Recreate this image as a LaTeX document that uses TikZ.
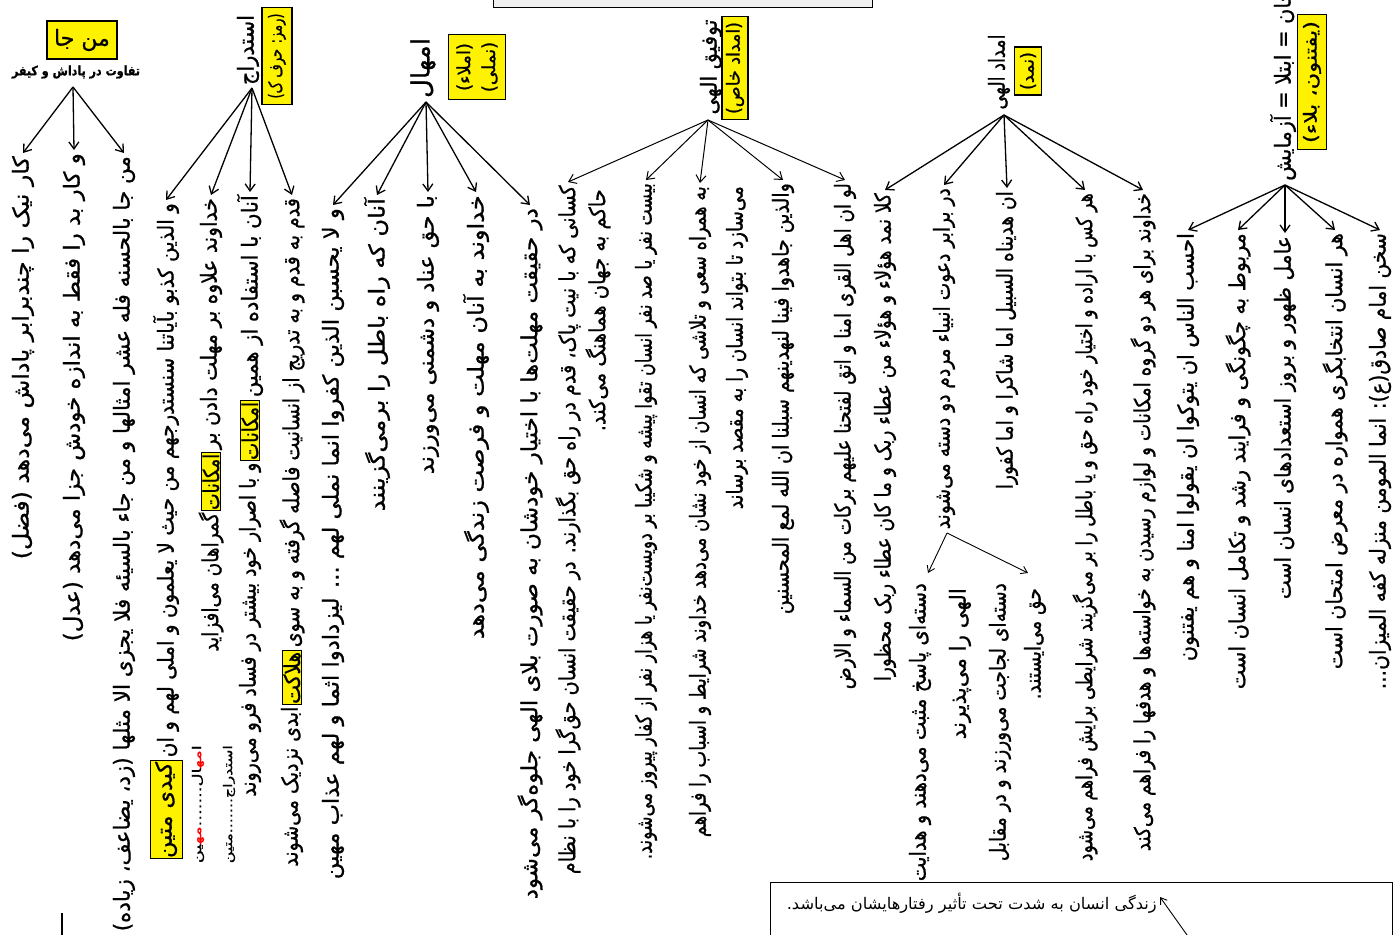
\documentclass[tikz,border=0pt]{standalone}
\usepackage{fontspec}
\usepackage{graphicx}
\usetikzlibrary{arrows.meta}
\newfontfamily\arabicfont[Script=Arabic, FakeBold=0.9]{DejaVu Sans}
\newfontfamily\arabicthin[Script=Arabic]{DejaVu Sans}
\TeXXeTstate=1
\newcommand{\fl}[2]{\resizebox{#1pt}{\height}{\arabicfont #2}}
\newcommand{\rd}[1]{\mbox{\color{red}#1}}
\newcommand\Col[5]{\node[col] (#1) at (#2,#3) {\fl{\fpeval{#4-#3-4}}{#5}};}
\newcommand\Part[4]{\node[col, inner xsep=1pt] (#1) at (#2.west) {\fl{#3}{#4}};}
\newcommand\Kbox[4]{\node[ibox] (#1) at (#2.west) {\fl{#3}{#4}};}
\begin{document}
\begin{tikzpicture}[x=1pt,y=-1pt,
  col/.style={rotate=90, anchor=east, inner xsep=3pt, inner ysep=0pt, font=\fontsize{22}{25}\selectfont},
  ibox/.style={rotate=90, anchor=east, draw, fill=yellow, line width=1pt, inner xsep=1pt, inner ysep=1pt, font=\fontsize{22}{25}\selectfont},
  lab/.style={rotate=90, inner sep=1pt, font=\fontsize{22}{25}\selectfont},
  ybox/.style={rotate=90, draw, fill=yellow, line width=1.3pt, inner sep=1pt, font=\fontsize{18}{21}\selectfont, align=center},
  arr/.style={line width=1.3pt, -{Straight Barb[length=7pt,width=10pt]}},
  thinarr/.style={line width=0.9pt, -{Straight Barb[length=6pt,width=8pt]}},
]
\useasboundingbox[fill=white] (0,0) rectangle (1394,934);

% top box (cut off)
\node[draw, fill=black!6, line width=1pt, minimum width=379pt, minimum height=40pt, anchor=south west, inner sep=0pt] (tb) at (493,8) {};

% ---------- group 1
\node[draw, fill=yellow, line width=1.3pt, minimum width=70pt, minimum height=38pt, font=\fontsize{22}{26}\selectfont] (t1) at (82,40) {\arabicfont\beginR من جا\endR};
\node[inner sep=0pt, font=\fontsize{13}{15}\selectfont] (t1s) at (76,72) {\fl{128}{\bfseries\beginR تفاوت در پاداش و کیفر\endR}};
\coordinate (o1) at (73,87);
\Col{c11}{23}{153}{560}{\beginR کار نیک را چندبرابر پاداش می‌دهد (فضل)\endR}
\Col{c12}{74}{150}{642}{\beginR و کار بد را فقط به اندازه خودش جزا می‌دهد (عدل)\endR}
\Col{c13}{124}{153}{932}{\beginR من جا بالحسنه فله عشر امثالها و من جاء بالسیئه فلا یجزی الا مثلها (زد، یضاعف، زیاده)\endR}
\foreach \n in {c11,c12,c13} \draw[arr] (o1) -- (\n.east);
\coordinate (v1) at (62,913); \coordinate (v2) at (62,940);
\draw[line width=1.3pt] (v1) -- (v2);

% ---------- group 2
\node[lab] (t2) at (248,50) {\fl{70}{\beginR استدراج\endR}};
\node[ybox, minimum width=97pt, minimum height=30pt] (y2) at (277,56) {\fl{85}{\beginR (رمز: حرف ک)\endR}};
\coordinate (o2) at (252,88);
\Col{c21}{166}{200}{758}{\beginR و الذین کذبو بآیاتنا سنستدرجهم من حیث لا یعلمون و املی لهم و ان\endR}
\node[ibox, minimum height=32pt] (c21k) at (c21.west) {\fl{96}{\beginR کیدی متین\endR}};
\Col{c22}{211}{195}{450}{\beginR خداوند علاوه بر مهلت دادن بر\endR}
\Kbox{c22k}{c22}{56}{\beginR امکانات\endR}
\Part{c22c}{c22k}{139}{\beginR گمراهان می‌افزاید\endR}
\Col{c23}{250}{192}{398}{\beginR آنان با استفاده از همین\endR}
\Kbox{c23k}{c23}{58}{\beginR امکانات\endR}
\Part{c23c}{c23k}{334}{\beginR و با اصرار خود بیشتر در فساد فرو می‌روند\endR}
\Col{c24}{292}{195}{648}{\beginR قدم به قدم و به تدریج از انسانیت فاصله گرفته و به سوی\endR}
\Kbox{c24k}{c24}{52}{\beginR هلاکت\endR}
\Part{c24c}{c24k}{160}{\beginR ابدی نزدیک می‌شوند\endR}
\foreach \n in {c21,c22,c23,c24} \draw[arr] (o2) -- (\n.east);
\node[col, font=\fontsize{12}{14}\selectfont] (s1) at (198,742) {\fl{118}{^^^^200dین\rd{مه^^^^200d}^^^^200dال.......\rd{مه^^^^200d}ا}};
\node[col, font=\fontsize{12}{14}\selectfont] (s2) at (229,742) {\fl{118}{\beginR استدراج.......متین\endR}};

% ---------- group 3
\node[lab, font=\fontsize{25}{28}\selectfont] (t3) at (423,68) {\fl{60}{\beginR امهال\endR}};
\node[ybox, minimum width=65pt, minimum height=57pt, font=\fontsize{18}{25}\selectfont] (y3) at (477,67) {\arabicfont\beginR (املاء)\endR\\\arabicfont\beginR (نملی)\endR};
\coordinate (o3) at (426,102);
\Col{c31}{333}{205}{880}{\beginR و لا یحسبن الذین کفروا انما نملی لهم ... لیزدادوا اثما و لهم عذاب مهین\endR}
\Col{c32}{377}{195}{512}{\beginR آنان که راه باطل را برمی‌گزینند\endR}
\Col{c33}{428}{192}{475}{\beginR با حق عناد و دشمنی می‌ورزند\endR}
\Col{c34}{476}{192}{640}{\beginR خداوند به آنان مهلت و فرصت زندگی می‌دهد\endR}
\Col{c35}{530}{205}{900}{\beginR در حقیقت مهلت‌ها با اختیار خودشان به صورت بلای الهی جلوه‌گر می‌شود\endR}
\foreach \n in {c31,c32,c33,c34,c35} \draw[arr] (o3) -- (\n.east);

% ---------- group 4
\node[lab] (t4) at (711,67) {\fl{95}{\beginR توفیق الهی\endR}};
\node[ybox, minimum width=103pt, minimum height=26pt] (y4) at (735,68) {\fl{92}{\beginR (امداد خاص)\endR}};
\coordinate (o4) at (708,120);
\Col{c41}{568}{182}{875}{\beginR کسانی که با نیت پاک، قدم در راه حق بگذارند. در حقیقت انسان حق‌گرا خود را با نظام\endR}
\Col{c41b}{598}{186}{432}{\beginR حاکم به جهان هماهنگ می‌کند.\endR}
\Col{c42}{646}{180}{860}{\beginR بیست نفر یا صد نفر انسان تقوا پیشه و شکیبا بر دویست‌نفر یا هزار نفر از کفار پیروز می‌شوند.\endR}
\Col{c43}{700}{183}{838}{\beginR به همراه سعی و تلاشی که انسان از خود نشان می‌دهد خداوند شرایط و اسباب را فراهم\endR}
\Col{c43b}{737}{183}{510}{\beginR می‌سازد تا بتواند انسان را به مقصد برساند\endR}
\Col{c44}{783}{180}{615}{\beginR والذین جاهدوا فینا لنهدینهم سبلنا ان الله لمع المحسنین\endR}
\Col{c45}{845}{180}{690}{\beginR لو ان اهل القری امنا و اتق لفتحنا علیهم برکات من السماء و الارض\endR}
\foreach \n in {c41,c42,c43,c44,c45} \draw[arr, line width=1pt] (o4) -- (\n.east);

% ---------- group 5
\node[lab] (t5) at (999,72) {\fl{75}{\beginR امداد الهی\endR}};
\node[ybox, minimum width=48pt, minimum height=27pt] (y5) at (1028,71) {\fl{38}{\beginR (نمد)\endR}};
\coordinate (o5) at (1004,115);
\Col{c51}{885}{190}{682}{\beginR کلا نمد هؤلاء و هؤلاء من عطاء ربک و ما کان عطاء ربک محظورا\endR}
\Col{c52}{944}{185}{530}{\beginR در برابر دعوت انبیاء مردم دو دسته می‌شوند\endR}
\Col{c53}{1007}{188}{490}{\beginR ان هدیناه السبیل اما شاکرا و اما کفورا\endR}
\Col{c54}{1085}{190}{862}{\beginR هر کس با اراده و اختیار خود راه حق و یا باطل را بر می‌گزیند شرایطی برایش فراهم می‌شود\endR}
\Col{c55}{1143}{190}{852}{\beginR خداوند برای هر دو گروه امکانات و لوازم رسیدن به خواسته‌ها و هدفها را فراهم می‌کند\endR}
\foreach \n in {c51,c52,c53,c54,c55} \draw[arr] (o5) -- (\n.east);
\coordinate (o5s) at (947,533);
\coordinate (h1) at (928,573);
\coordinate (h2) at (1028,573);
\Col{c521}{920}{580}{882}{\beginR دسته‌ای پاسخ مثبت می‌دهند و هدایت\endR}
\Col{c521b}{960}{585}{740}{\beginR الهی را می‌پذیرند\endR}
\Col{c522}{1000}{580}{862}{\beginR دسته‌ای لجاجت می‌ورزند و در مقابل\endR}
\Col{c522b}{1035}{585}{700}{\beginR حق می‌ایستند.\endR}
\draw[thinarr] (o5s) -- (h1);
\draw[thinarr] (o5s) -- (h2);

% ---------- group 6
\node[lab, anchor=west] (t6) at (1283,182) {\fl{215}{\beginR امتحان = ابتلا = آزمایش\endR}};
\node[ybox, minimum width=135pt, minimum height=29pt] (y6) at (1312,82) {\fl{122}{\beginR (یفتنون، بلاء)\endR}};
\coordinate (o6) at (1285,185);
\Col{c61}{1188}{230}{662}{\beginR احسب الناس ان یتوکوا ان یقولوا امنا و هم یفتنون\endR}
\Col{c62}{1238}{230}{690}{\beginR مربوط به چگونگی و فرایند رشد و تکامل انسان است\endR}
\Col{c63}{1285}{233}{600}{\beginR عامل ظهور و بروز استعدادهای انسان است\endR}
\Col{c64}{1335}{230}{670}{\beginR هر انسان انتخابگری همواره در معرض امتحان است\endR}
\Col{c65}{1380}{230}{690}{\beginR سخن امام صادق(ع): انما المومن منزله کفه المیزان...\endR}
\foreach \n in {c61,c62,c63,c64,c65} \draw[arr] (o6) -- (\n.east);

% ---------- bottom right box
\node[draw, line width=1.3pt, minimum width=622pt, minimum height=70pt, anchor=north west, inner sep=0pt] (bb) at (770,882) {};
\node[anchor=east, inner sep=0pt, font=\fontsize{16}{18}\selectfont] (bt) at (1157,903) {\resizebox{370pt}{\height}{\arabicthin\beginR زندگی انسان به شدت تحت تأثیر رفتارهایشان می‌باشد.\endR}};
\coordinate (bs) at (1192,942);
\coordinate (bh) at (1160,897);
\draw[thinarr] (bs) -- (bh);
\end{tikzpicture}
\end{document}
